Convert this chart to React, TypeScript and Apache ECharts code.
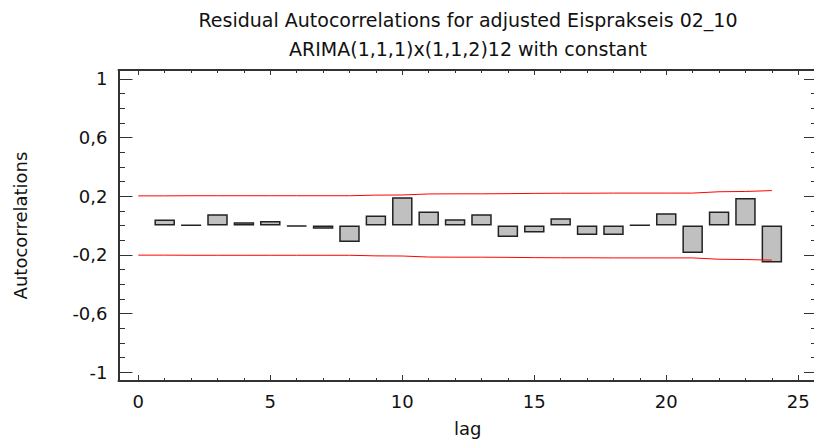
import React, { useEffect, useRef } from "react";
import * as echarts from "echarts";

const titleLine1 = "Residual Autocorrelations for adjusted Eisprakseis 02_10";
const titleLine2 = "ARIMA(1,1,1)x(1,1,2)12 with constant";
const yAxisTitle = "Autocorrelations";
const xAxisTitle = "lag";

const lags = [1, 2, 3, 4, 5, 6, 7, 8, 9, 10, 11, 12, 13, 14, 15, 16, 17, 18, 19, 20, 21, 22, 23, 24];
const autocorrelations = [
  0.041, 0.003, 0.077, 0.023, 0.03, -0.006, -0.022, -0.113, 0.068, 0.193, 0.096, 0.043,
  0.077, -0.079, -0.048, 0.05, -0.064, -0.064, 0.002, 0.084, -0.188, 0.096, 0.187, -0.252,
];

const limitLags = [0, 1, 2, 3, 4, 5, 6, 7, 8, 9, 10, 11, 12, 13, 14, 15, 16, 17, 18, 19, 20, 21, 22, 23, 24];
const upperLimit = [
  0.202, 0.202, 0.203, 0.203, 0.203, 0.203, 0.203, 0.203, 0.203, 0.207, 0.208, 0.215, 0.216,
  0.216, 0.217, 0.219, 0.220, 0.220, 0.221, 0.221, 0.221, 0.221, 0.230, 0.232, 0.238,
];
const lowerLimit = [
  -0.202, -0.202, -0.203, -0.203, -0.203, -0.203, -0.203, -0.203, -0.203, -0.207, -0.208, -0.215, -0.216,
  -0.216, -0.217, -0.219, -0.220, -0.220, -0.221, -0.221, -0.221, -0.221, -0.230, -0.232, -0.236,
];

const xMajorTicks = [0, 5, 10, 15, 20, 25];
const xMinorTicks = [0, 1, 2, 3, 4, 5, 6, 7, 8, 9, 10, 11, 12, 13, 14, 15, 16, 17, 18, 19, 20, 21, 22, 23, 24, 25];
const yMajorTicks = [-1, -0.6, -0.2, 0.2, 0.6, 1];
const yMinorTicks = [-1, -0.9, -0.8, -0.7, -0.6, -0.5, -0.4, -0.3, -0.2, -0.1, 0, 0.1, 0.2, 0.3, 0.4, 0.5, 0.6, 0.7, 0.8, 0.9, 1];

const X_MIN = -0.75;
const X_MAX = 25.71;
const Y_MIN = -1.06;
const Y_MAX = 1.06;

const FONT = "DejaVu Sans";
const AXIS_COLOR = "#333333";
const TEXT_COLOR = "#111111";

export default function App() {
  const ref = useRef<HTMLDivElement>(null);

  useEffect(() => {
    document.body.style.margin = "0";
    document.body.style.overflow = "hidden";
    document.documentElement.style.overflow = "hidden";
    if (!ref.current) return;
    const chart = echarts.init(ref.current, null, { renderer: "svg" });

    const baseX = {
      type: "value" as const,
      min: X_MIN,
      max: X_MAX,
      splitLine: { show: false },
    };
    const baseY = {
      type: "value" as const,
      min: Y_MIN,
      max: Y_MAX,
      splitLine: { show: false },
    };
    const lineStyle = { color: AXIS_COLOR, width: 2 };
    const tickStyle = { color: AXIS_COLOR, width: 1 };
    const textStyle = { fontFamily: FONT, fill: TEXT_COLOR, textAlign: "center", textVerticalAlign: "middle", verticalAlign: "middle" };

    chart.setOption({
      animation: false,
      backgroundColor: "#ffffff",
      grid: {
        left: 118.5,
        top: 70,
        width: 698.5,
        height: 311,
        containLabel: false,
        outerBoundsMode: "none",
      },
      xAxis: [
        {
          ...baseX,
          position: "bottom",
          axisLine: { show: true, onZero: false, lineStyle },
          axisTick: { show: true, inside: true, length: 6, customValues: xMajorTicks, lineStyle: tickStyle },
          axisLabel: {
            show: true,
            customValues: xMajorTicks,
            margin: 11,
            fontSize: 18,
            fontFamily: FONT,
            color: TEXT_COLOR,
          },
        },
        {
          ...baseX,
          position: "bottom",
          axisLine: { show: false, onZero: false },
          axisTick: { show: true, inside: true, length: 3, customValues: xMinorTicks, lineStyle: tickStyle },
          axisLabel: { show: false },
        },
        {
          ...baseX,
          position: "top",
          axisLine: { show: true, onZero: false, lineStyle },
          axisTick: { show: true, inside: true, length: 5, customValues: xMajorTicks, lineStyle: tickStyle },
          axisLabel: { show: false },
        },
        {
          ...baseX,
          position: "top",
          axisLine: { show: false, onZero: false },
          axisTick: { show: true, inside: true, length: 3, customValues: xMinorTicks, lineStyle: tickStyle },
          axisLabel: { show: false },
        },
      ],
      yAxis: [
        {
          ...baseY,
          position: "left",
          axisLine: { show: true, onZero: false, lineStyle },
          axisTick: { show: true, inside: true, length: 14, customValues: yMajorTicks, lineStyle: tickStyle },
          axisLabel: {
            show: true,
            customValues: yMajorTicks,
            margin: 11,
            fontSize: 18,
            fontFamily: FONT,
            color: TEXT_COLOR,
            formatter: (v: number) => String(v).replace(".", ","),
          },
        },
        {
          ...baseY,
          position: "left",
          axisLine: { show: false, onZero: false },
          axisTick: { show: true, inside: true, length: 6.5, customValues: yMinorTicks, lineStyle: tickStyle },
          axisLabel: { show: false },
        },
        {
          ...baseY,
          position: "right",
          axisLine: { show: true, onZero: false, lineStyle },
          axisTick: { show: true, inside: true, length: 13, customValues: yMajorTicks, lineStyle: tickStyle },
          axisLabel: { show: false },
        },
        {
          ...baseY,
          position: "right",
          axisLine: { show: false, onZero: false },
          axisTick: { show: true, inside: true, length: 6, customValues: yMinorTicks, lineStyle: tickStyle },
          axisLabel: { show: false },
        },
      ],
      graphic: [
        { type: "text", x: 468, y: 19.7, style: { ...textStyle, text: titleLine1, fontSize: 19 } },
        { type: "text", x: 468, y: 49.3, style: { ...textStyle, text: titleLine2, fontSize: 19 } },
        {
          type: "text",
          x: 20.5,
          y: 225.5,
          rotation: Math.PI / 2,
          style: { ...textStyle, text: yAxisTitle, fontSize: 18 },
        },
        { type: "text", x: 467.7, y: 428, style: { ...textStyle, text: xAxisTitle, fontSize: 18 } },
      ],
      series: [
        {
          type: "bar",
          xAxisIndex: 0,
          yAxisIndex: 0,
          barWidth: 20.5,
          data: lags.map((lag, i) => [lag, autocorrelations[i]]),
          itemStyle: { color: "#c0c0c0", borderColor: "#222222", borderWidth: 1.5 },
          emphasis: { disabled: true },
        },
        {
          type: "line",
          xAxisIndex: 0,
          yAxisIndex: 0,
          data: limitLags.map((lag, i) => [lag, upperLimit[i]]),
          symbol: "none",
          lineStyle: { color: "#ff0000", width: 1 },
          emphasis: { disabled: true },
        },
        {
          type: "line",
          xAxisIndex: 0,
          yAxisIndex: 0,
          data: limitLags.map((lag, i) => [lag, lowerLimit[i]]),
          symbol: "none",
          lineStyle: { color: "#ff0000", width: 1 },
          emphasis: { disabled: true },
        },
      ],
    });

    return () => {
      chart.dispose();
    };
  }, []);

  return <div ref={ref} style={{ width: 830, height: 441 }} />;
}
